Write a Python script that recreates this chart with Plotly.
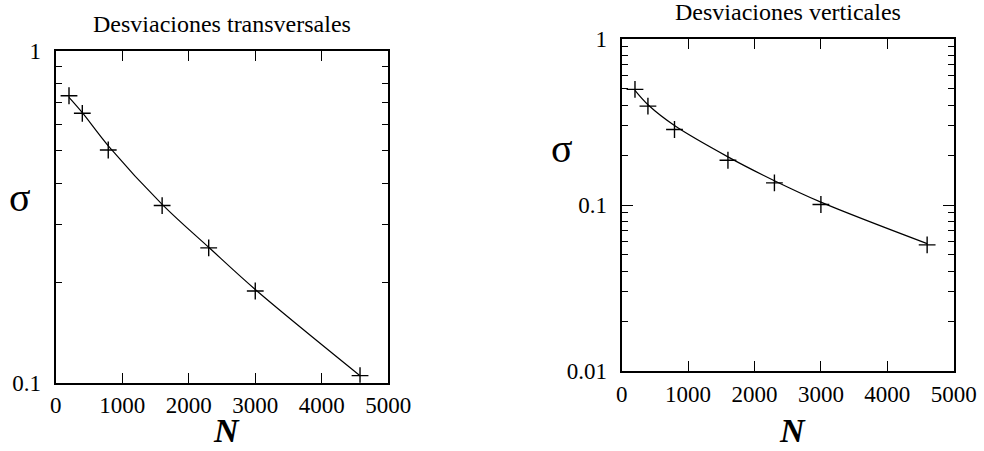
import plotly.graph_objects as go

# ---- data ----
N_left = [200, 400, 790, 1600, 2300, 3000, 4575]
sigma_left = [0.733, 0.649, 0.503, 0.342, 0.255, 0.189, 0.105]
fit_left_N = [200, 400, 800, 1600, 2300, 3000, 4575]
fit_left_sigma = [0.725, 0.652, 0.515, 0.345, 0.256, 0.191, 0.105]

N_right = [200, 395, 795, 1600, 2300, 3000, 4600]
sigma_right = [0.497, 0.394, 0.285, 0.186, 0.136, 0.1007, 0.0575]
fit_right_N = [200, 400, 800, 1600, 2300, 3000, 4600]
fit_right_sigma = [0.49, 0.40, 0.30, 0.195, 0.14, 0.104, 0.0585]

x_ticks = [0, 1000, 2000, 3000, 4000, 5000]
x_tick_labels = ["0", "1000", "2000", "3000", "4000", "5000"]
left_y_ticks = [0.1, 1]
left_y_labels = ["0.1", "1"]
right_y_ticks = [0.01, 0.1, 1]
right_y_labels = ["0.01", "0.1", "1"]
left_minor = [0.2, 0.3, 0.4, 0.5, 0.6, 0.7, 0.8, 0.9]
right_minor = [0.02, 0.03, 0.04, 0.05, 0.06, 0.07, 0.08, 0.09] + left_minor

title_left = "Desviaciones transversales"
title_right = "Desviaciones verticales"

W, H = 984, 451
FONT = "Liberation Serif, Times New Roman, serif"

def px(x):
    return x / W

def py(y):
    return 1 - y / H

fig = go.Figure()

for (xs, ys, fx, fy, xa, ya) in [
    (N_left, sigma_left, fit_left_N, fit_left_sigma, "x", "y"),
    (N_right, sigma_right, fit_right_N, fit_right_sigma, "x2", "y2"),
]:
    fig.add_trace(go.Scatter(x=fx, y=fy, mode="lines", line=dict(color="black", width=1.2, shape="spline"),
                             xaxis=xa, yaxis=ya, showlegend=False, hoverinfo="skip"))
    fig.add_trace(go.Scatter(x=xs, y=ys, mode="markers",
                             marker=dict(symbol="cross-thin", size=12, line=dict(color="black", width=1.4)),
                             xaxis=xa, yaxis=ya, showlegend=False))

xcommon = dict(range=[0, 5000], tickvals=x_ticks, ticktext=x_tick_labels, ticks="inside", ticklen=10,
               tickwidth=1.3, tickcolor="black", showline=True, linecolor="black", linewidth=2,
               mirror="allticks", showgrid=False, zeroline=False, automargin=False,
               tickfont=dict(family=FONT, size=23, color="black"), ticklabelstandoff=1)
ycommon = dict(type="log", ticks="inside", ticklen=11, tickwidth=1.3, tickcolor="black",
               showline=True, linecolor="black", linewidth=2, mirror="allticks",
               showgrid=False, zeroline=False, automargin=False,
               tickfont=dict(family=FONT, size=23, color="black"), ticklabelstandoff=8)

fig.update_layout(
    template="none",
    width=W, height=H, margin=dict(l=0, r=0, t=0, b=0, autoexpand=False),
    paper_bgcolor="white", plot_bgcolor="white",
    xaxis=dict(domain=[px(55.7), px(388.3)], anchor="y", **xcommon),
    yaxis=dict(domain=[py(382.7), py(51)], anchor="x", range=[-1, 0],
               tickvals=left_y_ticks, ticktext=left_y_labels,
               minor=dict(tickvals=left_minor, ticks="inside", ticklen=6, tickwidth=1.3, tickcolor="black"),
               **ycommon),
    xaxis2=dict(domain=[px(621.7), px(953.7)], anchor="y2", **xcommon),
    yaxis2=dict(domain=[py(371), py(39)], anchor="x2", range=[-2, 0],
                tickvals=right_y_ticks, ticktext=right_y_labels,
                minor=dict(tickvals=right_minor, ticks="inside", ticklen=6, tickwidth=1.3, tickcolor="black"),
                **ycommon),
)

annots = [
    (title_left, 221.5, 24, 24, "normal", "normal"),
    (title_right, 787.5, 12, 24, "normal", "normal"),
    ("σ", 20, 198, 40, "normal", "normal"),
    ("σ", 562, 148, 40, "normal", "normal"),
    ("N", 226, 430, 34, "bold", "italic"),
    ("N", 792, 430, 34, "bold", "italic"),
]
for text, x, y, size, weight, style in annots:
    fig.add_annotation(text=text, x=px(x), y=py(y), xref="paper", yref="paper",
                       xanchor="center", yanchor="middle", showarrow=False,
                       font=dict(family=FONT, size=size, color="black", weight=weight, style=style))

fig.write_html("out.html")
